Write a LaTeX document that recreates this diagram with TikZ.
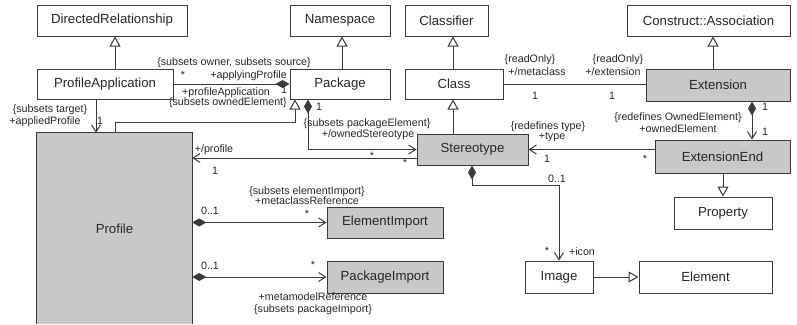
\documentclass[tikz,border=0pt]{standalone}
\usepackage{fontspec}
\setmainfont{Liberation Sans}
\usetikzlibrary{arrows.meta}
\definecolor{linec}{HTML}{3A3A3A}
\definecolor{txtc}{HTML}{262626}
\definecolor{boxgray}{HTML}{C8C8C8}
\begin{document}
\begin{tikzpicture}[x=1pt,y=-1pt,
  cls/.style={draw=linec, line width=1pt, fill=white, font=\fontsize{13.2}{15}\selectfont, text=txtc, inner sep=0pt},
  gcls/.style={cls, fill=boxgray},
  lbl/.style={font=\fontsize{10.7}{12}\selectfont, text=txtc, inner sep=0pt, text height=7.6pt, text depth=2pt},
  conn/.style={draw=linec, line width=1pt},
  gen/.style={conn, -{Triangle[length=10pt, width=11pt, fill=white]}},
  nav/.style={conn, -{Straight Barb[length=7pt, width=9pt]}},
  compend/.style={conn, -{Diamond[length=14pt, width=8pt]}},
  compnav/.style={conn, {Diamond[length=14pt, width=8pt]}-{Straight Barb[length=7pt, width=9pt]}},
]
\useasboundingbox (0,0) rectangle (797,324);

% classes
\node[cls, minimum width=150pt, minimum height=31pt] (dr)   at (112,20.5)   {DirectedRelationship};
\node[cls, minimum width=100pt, minimum height=31pt] (ns)   at (340,20.5)   {Namespace};
\node[cls, minimum width=83pt,  minimum height=31pt] (clf)  at (446.5,20.5) {Classifier};
\node[cls, minimum width=163pt, minimum height=31pt] (ca)   at (708.5,20.5) {Construct::Association};
\node[cls, minimum width=136pt, minimum height=30pt] (pa)   at (105,84)     {ProfileApplication};
\node[cls, minimum width=100pt, minimum height=30pt] (pkg)  at (340,84)     {Package};
\node[cls, minimum width=98pt,  minimum height=30pt] (cl)   at (454,84)     {Class};
\node[gcls, minimum width=144pt, minimum height=32pt] (ext) at (718,85)     {Extension};
\node[gcls, minimum width=111pt, minimum height=31pt] (st)  at (472.5,149.5) {Stereotype};
\node[gcls, minimum width=135pt, minimum height=33pt] (ee)  at (722.5,156.5) {ExtensionEnd};
\node[cls, minimum width=98pt,  minimum height=32pt] (prop) at (723,213)    {Property};
\node[cls, minimum width=68pt,  minimum height=32pt] (img)  at (559,277)    {Image};
\node[cls, minimum width=133pt, minimum height=32pt] (elem) at (705.5,277)  {Element};
\node[gcls, minimum width=116pt, minimum height=31pt] (ei)  at (385,222.5)  {ElementImport};
\node[gcls, minimum width=116pt, minimum height=32pt] (pim) at (385,277)    {PackageImport};

% Profile runs off the lower edge, so only three sides are stroked
\node[fill=boxgray, inner sep=0pt, minimum width=155pt, minimum height=191pt,
      font=\fontsize{13.2}{15}\selectfont, text=txtc] (prof) at (114.5,228.5) {Profile};
\draw[linec, line width=1pt] (prof.south west) -- (prof.north west) -- (prof.north east) -- (prof.south east);

% guide positions for connector columns and rows
\coordinate (gA) at (115,0);
\coordinate (gB) at (295,0);
\coordinate (gN) at (342,0);
\coordinate (gC) at (96,0);
\coordinate (gD) at (308,0);
\coordinate (gE) at (0,158);
\coordinate (gF) at (752,0);
\coordinate (gH) at (472,0);
\coordinate (gJ) at (453,0);
\coordinate (gK) at (713,0);
\coordinate (gL) at (723,0);

% generalizations
\draw[gen] (pa.north -| gA) -- (dr.south -| gA);
\draw[gen] (pkg.north -| gN) -- (ns.south -| gN);
\draw[gen] (cl.north -| gJ) -- (clf.south -| gJ);
\draw[gen] (ext.north -| gK) -- (ca.south -| gK);
\draw[gen] (st.north -| gJ) -- (cl.south -| gJ);
\draw[gen] (ee.south -| gL) -- (prop.north -| gL);
\draw[gen] (img.east) -- (elem.west);
\draw[gen] (prof.north -| gA) -- ++(0,-10) -| (pkg.south -| gB);

% associations
\draw[compend] (pa.east) -- (pkg.west);
\draw[nav] (pa.south -| gC) -- (prof.north -| gC);
\draw[compnav] (pkg.south -| gD) |- (st.west);
\draw[nav] (st.west |- gE) -- (prof.east |- gE);
\draw[conn] (cl.east) -- (ext.west |- cl.east);
\draw[compnav] (ext.south -| gF) -- (ee.north -| gF);
\draw[nav] (ee.west |- st.east) -- (st.east);
\draw[compnav] (st.south -| gH) -- ++(0,20) -| (img.north);
\draw[compnav] (prof.east |- ei.west) -- (ei.west);
\draw[compnav] (prof.east |- pim.west) -- (pim.west);

% association end labels
\node[lbl] (l1) at (234,63) {\{subsets owner, subsets source\}};
\node[lbl] (l2) at (183,76) {*};
\node[lbl, anchor=east] (l3) at (287,76) {+applyingProfile};
\node[lbl, anchor=west] (l4) at (182,93) {+profileApplication};
\node[lbl, anchor=east] (l5) at (287,103) {\{subsets ownedElement\}};
\node[lbl] (l6) at (284,91) {1};
\node[lbl] (l7) at (50,110) {\{subsets target\}};
\node[lbl] (l8) at (45,122) {+appliedProfile};
\node[lbl] (l9) at (100,122) {1};
\node[lbl] (l10) at (319,108) {1};
\node[lbl] (l11) at (367,124) {\{subsets packageElement\}};
\node[lbl] (l12) at (368,135) {+/ownedStereotype};
\node[lbl] (l13) at (372,157) {*};
\node[lbl] (l14) at (405,164) {*};
\node[lbl] (l15) at (214,150) {+/profile};
\node[lbl] (l16) at (215,172) {1};
\node[lbl] (l17) at (530,60) {\{readOnly\}};
\node[lbl] (l18) at (537,73) {+/metaclass};
\node[lbl] (l19) at (535,97) {1};
\node[lbl] (l20) at (618,60) {\{readOnly\}};
\node[lbl] (l21) at (613,73) {+/extension};
\node[lbl] (l22) at (612,97) {1};
\node[lbl] (l23) at (765,108) {1};
\node[lbl] (l24) at (765,133) {1};
\node[lbl] (l25) at (678,118) {\{redefines OwnedElement\}};
\node[lbl] (l26) at (678,130) {+ownedElement};
\node[lbl] (l27) at (548,127) {\{redefines type\}};
\node[lbl] (l28) at (552,137) {+type};
\node[lbl] (l29) at (547,160) {1};
\node[lbl] (l30) at (645,160) {*};
\node[lbl] (l31) at (557,180) {0..1};
\node[lbl] (l32) at (547,252) {*};
\node[lbl] (l33) at (582,253) {+icon};
\node[lbl] (l34) at (307,192) {\{subsets elementImport\}};
\node[lbl] (l35) at (307,202) {+metaclassReference};
\node[lbl] (l36) at (210,212) {0..1};
\node[lbl] (l37) at (307,215) {*};
\node[lbl] (l38) at (210,267) {0..1};
\node[lbl] (l39) at (313,266) {*};
\node[lbl] (l40) at (313,298) {+metamodelReference};
\node[lbl] (l41) at (313,310) {\{subsets packageImport\}};
\end{tikzpicture}
\end{document}
